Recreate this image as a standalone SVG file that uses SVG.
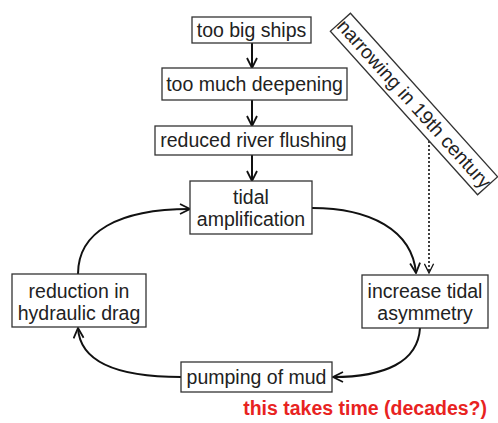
<svg xmlns="http://www.w3.org/2000/svg" width="498" height="423" viewBox="0 0 498 423">
<style>
.box{fill:#fff;stroke:#333;stroke-width:1.3}
.t{font-family:"Liberation Sans",Arial,sans-serif;font-size:19.5px;fill:#222;text-anchor:middle}
.c{fill:none;stroke:#111;stroke-width:2}
.d{fill:none;stroke:#111;stroke-width:1.6;stroke-dasharray:2 2}
.red{font-family:"Liberation Sans",Arial,sans-serif;font-size:19.5px;font-weight:bold;fill:#e8231f}
</style>
<defs>
<marker id="ah" viewBox="0 0 12 12" refX="11" refY="6" markerWidth="12" markerHeight="12" markerUnits="userSpaceOnUse" orient="auto">
<path d="M1,1 L11,6 L1,11" fill="none" stroke="#111" stroke-width="1.8"/>
</marker>
<marker id="ahd" viewBox="0 0 12 12" refX="11" refY="6" markerWidth="11" markerHeight="11" markerUnits="userSpaceOnUse" orient="auto">
<path d="M1,1 L11,6 L1,11" fill="none" stroke="#111" stroke-width="1.4"/>
</marker>
</defs>
<g id="connectors">
<line class="c" x1="252" y1="43" x2="252" y2="68" marker-end="url(#ah)"/>
<line class="c" x1="252" y1="100" x2="252" y2="126" marker-end="url(#ah)"/>
<line class="c" x1="252" y1="155" x2="252" y2="181" marker-end="url(#ah)"/>
<path class="c" d="M312,208 C370,208 412,230 416,273" marker-end="url(#ah)"/>
<path class="d" d="M429,137 L429,273" marker-end="url(#ahd)"/>
<path class="c" d="M420,328 C418,362 385,377 333,377" marker-end="url(#ah)"/>
<path class="c" d="M181,377 C118,377 80,362 78,328" marker-end="url(#ah)"/>
<path class="c" d="M78,274 C78,232 118,209 190,209" marker-end="url(#ah)"/>
</g>
<g id="n1"><rect class="box" x="192" y="17" width="119" height="26"/><text class="t" x="251.5" y="37">too big ships</text></g>
<g id="n2"><rect class="box" x="162" y="68" width="185" height="32"/><text class="t" x="254.5" y="91">too much deepening</text></g>
<g id="n3"><rect class="box" x="155" y="126" width="197" height="29"/><text class="t" x="253.5" y="147">reduced river flushing</text></g>
<g id="n4"><rect class="box" x="190" y="181" width="122" height="53"/><text class="t" x="251" y="204">tidal</text><text class="t" x="251" y="226">amplification</text></g>
<g id="n5"><rect class="box" x="362" y="275" width="126" height="53"/><text class="t" x="425" y="298">increase tidal</text><text class="t" x="425" y="320">asymmetry</text></g>
<g id="n6"><rect class="box" x="181" y="362" width="151" height="30"/><text class="t" x="256.5" y="384">pumping of mud</text></g>
<g id="n7"><rect class="box" x="12" y="274" width="134" height="53"/><text class="t" x="79" y="298">reduction in</text><text class="t" x="79" y="320">hydraulic drag</text></g>
<g id="n8" transform="translate(414,104) rotate(48)"><rect class="box" x="-110" y="-13.5" width="220" height="27"/><text class="t" x="0" y="6.5">narrowing in 19th century</text></g>
<text class="red" x="487" y="415" text-anchor="end">this takes time (decades?)</text>
</svg>
